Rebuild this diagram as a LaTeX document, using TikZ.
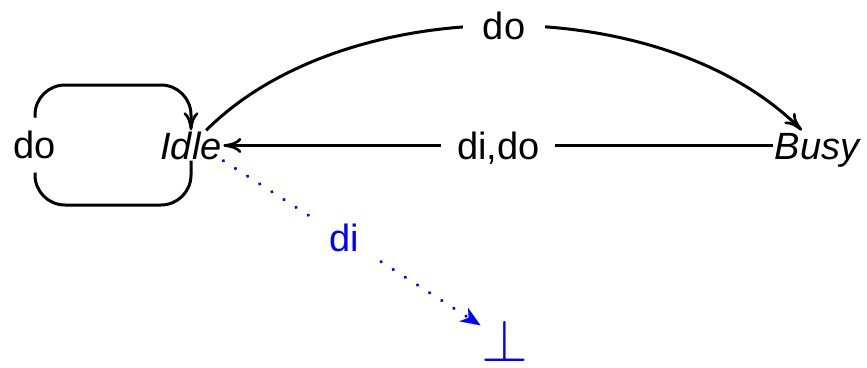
\documentclass[tikz,border=0pt]{standalone}
\usepackage{fontspec}
\setmainfont{Liberation Sans}
\usepackage{graphicx}
\usetikzlibrary{arrows.meta}
\begin{document}
\begin{tikzpicture}[x=1pt,y=1pt,
  every node/.style={font=\fontsize{38}{44}\selectfont},
  stnode/.style={inner sep=1.5pt,text height=27pt,text depth=0pt,font=\fontsize{38}{44}\selectfont\itshape},
  lbl/.style={fill=white,text height=27pt,text depth=0pt,inner xsep=16pt,inner ysep=4pt},
  edgeline/.style={line width=3pt,-{Computer Modern Rightarrow[length=18pt,width=15pt,line width=2.6pt]}},
  failline/.style={blue,line width=3.6pt,line cap=round,dash pattern=on 0.01pt off 14.4pt,-{Stealth[length=20pt,width=16pt,inset=6pt,line width=0.1pt]}}
]
\useasboundingbox (0,0) rectangle (867,-367);
\node[stnode,anchor=base] (idle) at (191,-159) {Idle};
\node[stnode,anchor=base] (busy) at (817,-159) {Busy};
\node[text=blue,inner sep=1pt] (bot) at (505,-341) {\fontsize{10}{12}\selectfont\scalebox{6}{$\perp$}};
\draw[edgeline,rounded corners=30pt] (idle.south) -- (191,-205) -- (35,-205) -- node[lbl,inner ysep=14pt,inner xsep=4pt]{do} (35,-85) -- (191,-85) -- (idle.north);
\draw[edgeline] (idle) to[out=45,in=135,looseness=0.85] node[lbl,inner xsep=20pt]{do} (busy);
\draw[edgeline] (busy) -- node[lbl]{di,do} (idle);
\draw[failline] (idle.south east) -- node[pos=0.47,lbl,text=blue,inner xsep=18pt,inner ysep=8pt]{di} (bot);
\end{tikzpicture}
\end{document}
